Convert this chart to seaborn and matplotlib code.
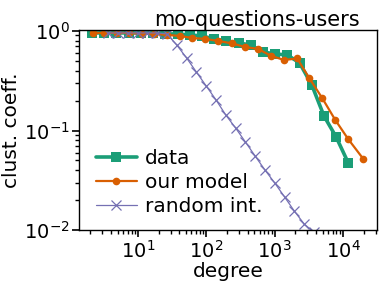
import numpy as np
import pandas as pd
import matplotlib
matplotlib.use("Agg")
import matplotlib.pyplot as plt
import seaborn as sns

# degree bins and clustering coefficients
data_deg = [2.1, 3.2, 4.8, 7.3, 11, 16.6, 25, 37.8, 57, 86, 130, 195, 295, 445,
            672, 1014, 1528, 2307, 3480, 5250, 7925, 11950]
data_cc = [0.955, 0.955, 0.955, 0.955, 0.955, 0.955, 0.933, 0.933, 0.912, 0.891,
           0.831, 0.794, 0.757, 0.723, 0.615, 0.587, 0.574, 0.477, 0.287, 0.140,
           0.086, 0.047]

model_deg = [2.19, 3.18, 4.86, 7.41, 11.3, 17.3, 26.5, 40.4, 61.8, 95.7, 148, 238,
             369, 571, 886, 1374, 2128, 3190, 4940, 7660, 11880, 19700]
model_cc = [0.955, 0.955, 0.955, 0.955, 0.933, 0.933, 0.912, 0.891, 0.850, 0.831,
            0.794, 0.749, 0.690, 0.659, 0.561, 0.511, 0.529, 0.337, 0.212, 0.128,
            0.082, 0.052]

rand_deg = [3.6, 5.1, 7.0, 9.8, 13.6, 19.0, 26.4, 36.7, 51.2, 71.1, 99.1, 138, 192,
            267, 372, 516, 719, 1000, 1393, 1936, 2698, 3750]
rand_cc = [0.955, 0.955, 0.955, 0.955, 0.955, 0.955, 0.933, 0.723, 0.535, 0.387,
           0.280, 0.203, 0.143, 0.106, 0.0766, 0.0554, 0.0401, 0.0297, 0.0215,
           0.0155, 0.0115, 0.0095]

sns.set_style("ticks", {"text.color": "black", "axes.labelcolor": "black",
                        "xtick.color": "black", "ytick.color": "black",
                        "axes.edgecolor": "black"})
plt.rcParams['font.family'] = ['DejaVu Sans']

colors = sns.color_palette("Dark2", 3)

fig = plt.figure(figsize=(3.9, 2.92), dpi=100)
ax = fig.add_axes([0.203, 0.212, 0.764, 0.685])

sns.lineplot(x=data_deg, y=data_cc, ax=ax, color=colors[0], marker='s',
             markersize=7, markeredgewidth=0, linewidth=2.6, label='data')
sns.lineplot(x=model_deg, y=model_cc, ax=ax, color=colors[1], marker='o',
             markersize=5.5, markeredgewidth=0, linewidth=1.6, label='our model')
sns.lineplot(x=rand_deg, y=rand_cc, ax=ax, color=colors[2], marker='x',
             markersize=7, markeredgewidth=0.9, markeredgecolor=colors[2],
             linewidth=0.9, label='random int.')

ax.set_xscale('log')
ax.set_yscale('log')
ax.set_xlim(1.37, 31500)
ax.set_ylim(0.01, 1.02)

ax.set_xlabel("degree", fontsize=14.5, labelpad=0)
ax.set_ylabel("clust. coeff.", fontsize=14.5, labelpad=2)
ax.set_title("mo-questions-users", fontsize=15, pad=3, x=0.597)
ax.tick_params(axis='both', which='major', labelsize=14, length=5, width=1.2, pad=2)
ax.tick_params(axis='both', which='minor', length=3, width=1)

for s in ax.spines.values():
    s.set_linewidth(1.0)

ax.legend(loc='lower left', frameon=False, fontsize=14.5, handlelength=2.0,
          handletextpad=0.4, labelspacing=0.25, borderaxespad=0.3,
          bbox_to_anchor=(0.01, 0.0))

fig.savefig("out.png", dpi=100)
